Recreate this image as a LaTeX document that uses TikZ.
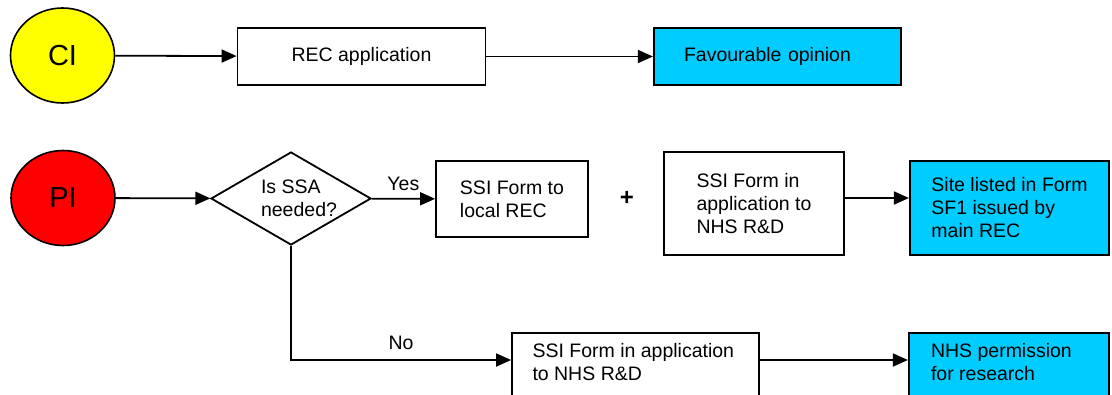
\documentclass[tikz,border=0pt]{standalone}
\usepackage{fontspec}
\setmainfont{Liberation Sans}
\usetikzlibrary{arrows.meta,shapes.geometric}
\definecolor{ssaYellow}{HTML}{FFFF00}
\definecolor{ssaRed}{HTML}{FF0000}
\definecolor{ssaBlue}{HTML}{00CCFF}
\newcommand{\ssacut}[2]{\parbox[c][90pt][t]{#1}{\raggedright #2}}
\tikzset{
  ssa line/.style={draw=black, line width=1.8pt},
  ssa arrow/.style={ssa line, -{Triangle[length=15pt,width=13pt]}},
  ssa role/.style={ellipse, draw=black, line width=1.6pt, inner sep=0pt, minimum width=104pt, minimum height=95pt, font=\fontsize{29}{32}\selectfont},
  ssa box/.style={rectangle, draw=black, line width=1.8pt, inner sep=0pt, align=left, font=\fontsize{19.5}{23}\selectfont},
  ssa result/.style={ssa box, fill=ssaBlue, line width=2.2pt},
  ssa label/.style={font=\fontsize{19.5}{23}\selectfont},
}

\begin{document}
\begin{tikzpicture}[x=1pt, y=-1pt]
  \useasboundingbox (0,0) rectangle (1112,394);
  \clip (0,0) rectangle (1112,394);

  % CI route: one REC application
  \node[ssa role, fill=ssaYellow] (ci) at (62.5,55.5) {CI};
  \node[ssa box, minimum width=248pt, minimum height=57pt] (rec) at (361.5,56.5) {REC application};
  \node[ssa result, text width=187pt, inner xsep=30pt, minimum height=57pt] (fav) at (777.5,56.5) {Favourable opinion};
  \draw[ssa arrow] (ci) -- (rec);
  \draw[ssa arrow] (rec) -- (fav);

  % PI route: decision on SSA
  \node[ssa role, fill=ssaRed] (pi) at (63,198) {PI};
  \node[ssa box, diamond, aspect=1.72, minimum width=160pt, minimum height=93pt] (dec) at (291,198.5) {\hspace{16pt}Is SSA\\\hspace{16pt}needed?};
  \node[ssa box, minimum width=152pt, minimum height=76pt] (local) at (512,199) {SSI Form to\\local REC};
  \node[ssa label, font=\fontsize{24}{28}\selectfont\bfseries] (plus) at (627,198) {+};
  \node[ssa box, minimum width=180pt, minimum height=103pt] (app) at (754,203.5) {SSI Form in\\application to\\NHS R\&D};
  \node[ssa result, minimum width=199pt, minimum height=94pt] (site) at (1009.5,208) {Site listed in Form\\SF1 issued by\\main REC};
  \draw[ssa arrow] (pi) -- (dec);
  \draw[ssa arrow] (dec) -- node[ssa label, above, inner sep=7pt] {Yes} (local);
  \draw[ssa arrow] (app.east |- pi) -- (site.west |- pi);

  % no SSA: straight to NHS R&D
  \node[ssa box, anchor=north, inner ysep=10pt, minimum width=247pt] (rdapp) at (635.5,332) {\ssacut{206pt}{SSI Form in application\\to NHS R\&D}};
  \node[ssa result, anchor=north, inner ysep=10pt, minimum width=200pt] (perm) at (1009,332) {\ssacut{156pt}{NHS permission\\for research}};
  \draw[ssa arrow] (dec.south) |- node[ssa label, pos=0.75, above, inner sep=9pt] {No} ([yshift=-28pt]rdapp.north west);
  \draw[ssa arrow] ([yshift=-28pt]rdapp.north east) -- ([yshift=-28pt]perm.north west);
\end{tikzpicture}
\end{document}
